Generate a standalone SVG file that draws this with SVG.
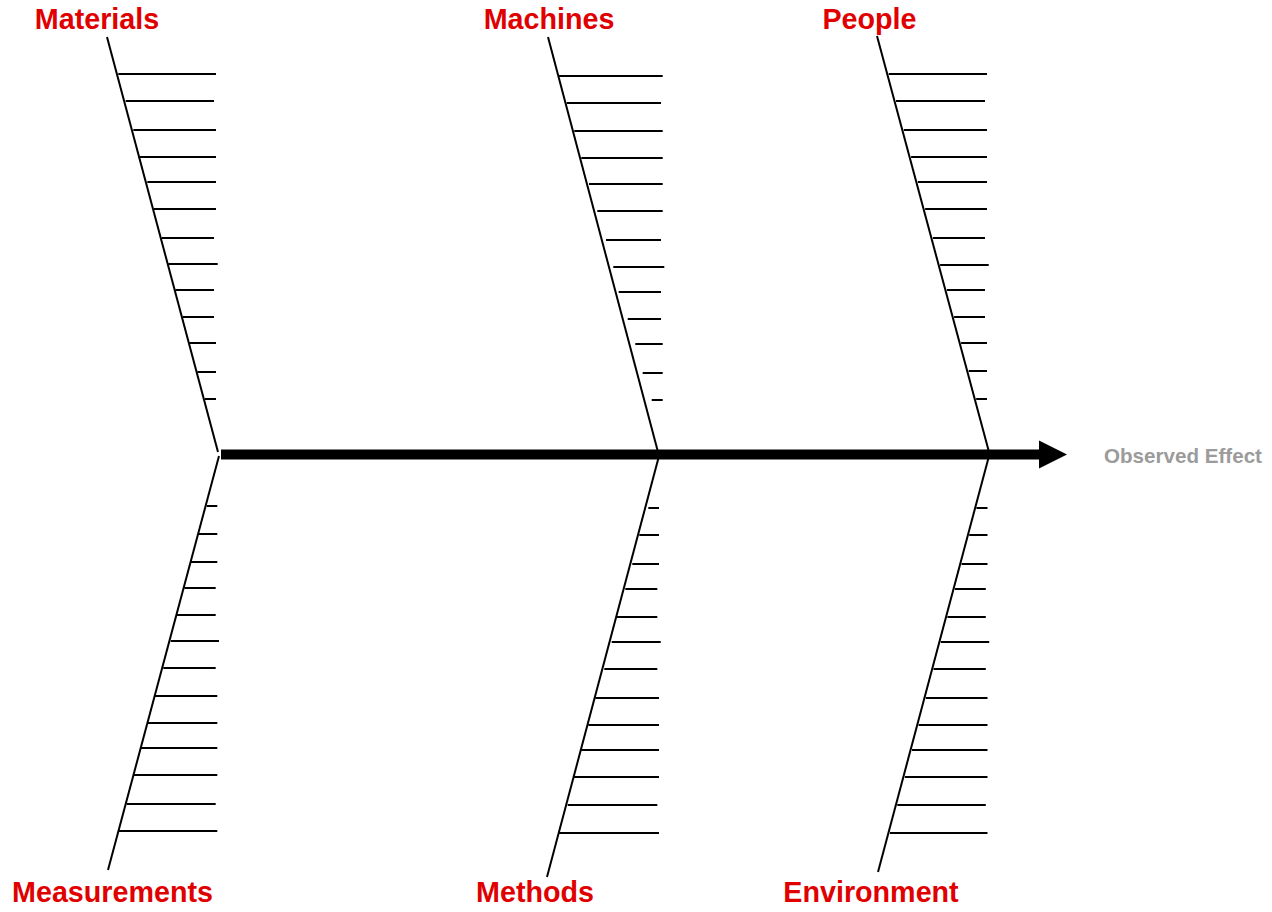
<svg xmlns="http://www.w3.org/2000/svg" width="1272" height="912" viewBox="0 0 1272 912">
<style>
.cat{font-family:"Liberation Sans",Arial,sans-serif;font-weight:bold;font-size:28.7px;fill:#e00000;text-anchor:middle}
.eff{font-family:"Liberation Sans",Arial,sans-serif;font-weight:bold;font-size:20.6px;fill:#9b9b9b}
.sp{stroke:#000;stroke-width:2;fill:none}
.tk{stroke:#000;stroke-width:2;fill:none}
</style>
<rect width="1272" height="912" fill="#fff"/>
<g id="connectors">
<line x1="221" y1="454.5" x2="1042" y2="454.5" stroke="#000" stroke-width="10"/>
<polygon points="1039,440.5 1067,454.5 1039,468.5" fill="#000"/>
</g>
<g id="effect"><text class="eff" x="1104" y="463">Observed Effect</text></g>
<g id="materials">
<text class="cat" x="97" y="29">Materials</text>
<line class="sp" x1="107" y1="37" x2="218" y2="452"/>
<path class="tk" d="M118.3 74H216M125.7 101H214M133.3 130H216M138.3 157H216M147.3 182H216M154 209H216M161.7 238H214M168.3 264H217.7M175.3 290H214M182.7 317H214M189.3 343H216M197.3 372H216M205 399H216"/>
</g>
<g id="machines">
<text class="cat" x="549" y="29">Machines</text>
<line class="sp" x1="548" y1="37" x2="658" y2="452"/>
<path class="tk" d="M559 76H662.7M566.7 103H661M574.3 131H662.7M581.3 158H662.7M589 184H662.7M597.3 211H662.7M606 240H661M613.3 267H664.3M618.7 292H661M627.7 319H661M635.3 344H662.7M642.7 373H662.7M651.7 400H662.7"/>
</g>
<g id="people">
<text class="cat" x="869.5" y="29">People</text>
<line class="sp" x1="877" y1="36" x2="989" y2="452"/>
<path class="tk" d="M888.7 74H987M896 101H985M903.8 130H987M911.1 157H987M917.8 182H987M925.1 209H987M932.9 238H985M940.1 265H988.7M946.9 290H985M954.1 317H985M961.1 343H987M968.7 371H987M976.2 399H987"/>
</g>
<g id="measurements">
<text class="cat" x="112.5" y="902">Measurements</text>
<line class="sp" x1="219" y1="456" x2="108" y2="870"/>
<path class="tk" d="M206.7 506H217.3M198.7 534H217.3M190.7 562H217.3M184.3 588H215.7M176 615H215.7M170.7 641H219M163.3 668H215.7M154.3 696H217.3M147.3 723H217.3M140.3 748H217.3M133.3 775H217.3M126.7 804H215.7M119 831H217.3"/>
</g>
<g id="methods">
<text class="cat" x="535" y="902">Methods</text>
<line class="sp" x1="659" y1="456" x2="547" y2="877"/>
<path class="tk" d="M648.3 508H659M639.3 535H659M632.3 564H659M625.3 589H657.3M616.7 617H657.3M611.7 642H660.7M604.3 669H657.3M595.3 698H659M588.3 725H659M581.3 750H659M574 777H659M567.7 805H657.3M559 833H659"/>
</g>
<g id="environment">
<text class="cat" x="871" y="902">Environment</text>
<line class="sp" x1="989" y1="456" x2="878" y2="872"/>
<path class="tk" d="M976.4 508H987.5M969.2 535H987.5M961.5 564H987.5M954.8 589H985.8M947.4 617H985.8M940.7 642H989.2M933.5 669H985.8M925.8 698H987.5M918.6 725H987.5M912 750H987.5M904.8 777H987.5M897.3 805H985.8M889.9 833H987.5"/>
</g>
</svg>
